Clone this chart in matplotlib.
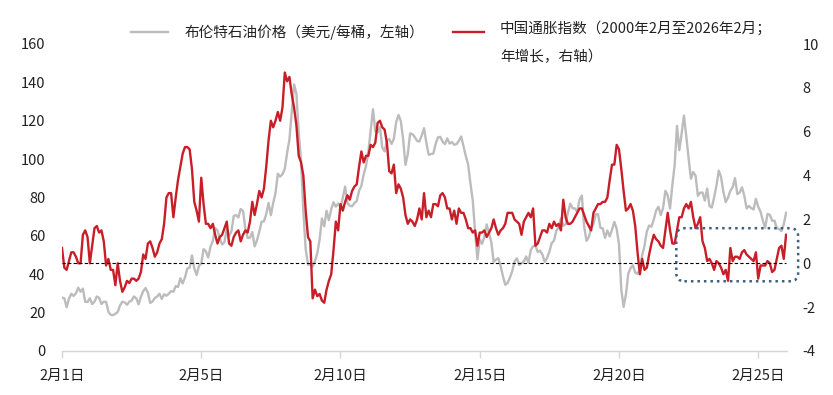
import numpy as np
import pandas as pd
import matplotlib
matplotlib.use('Agg')
import matplotlib.pyplot as plt
from matplotlib.lines import Line2D
from matplotlib.patches import FancyBboxPatch

plt.rcParams['font.family'] = ['Noto Sans CJK SC', 'DejaVu Sans']
plt.rcParams['axes.unicode_minus'] = False

# monthly, Feb 2000 .. Feb 2026
months = pd.date_range('2000-02-01', '2026-02-01', freq='MS')

# China CPI, % y/y (right axis)
cpi_yoy = [
    0.7, -0.2, -0.3, 0.1, 0.5, 0.5, 0.3, 0.0, 0.0, 1.3, 1.5,
    1.2, 0.0, 0.8, 1.6, 1.7, 1.4, 1.5, 1.0, -0.1, 0.2, -0.3, -0.3,
    -1.0, 0.0, -0.8, -1.3, -1.1, -0.8, -0.9, -0.7, -0.7, -0.8, -0.7, -0.4,
    0.4, 0.2, 0.9, 1.0, 0.7, 0.3, 0.5, 0.9, 1.1, 1.8, 3.0, 3.2,
    3.2, 2.1, 3.0, 3.8, 4.4, 5.0, 5.3, 5.3, 5.2, 4.3, 2.8, 2.4,
    1.9, 3.9, 2.7, 1.8, 1.8, 1.6, 1.8, 1.3, 0.9, 1.2, 1.3, 1.6,
    1.9, 0.9, 0.8, 1.2, 1.4, 1.5, 1.0, 1.3, 1.5, 1.4, 1.9, 2.8,
    2.2, 2.7, 3.3, 3.0, 3.4, 4.4, 5.6, 6.5, 6.2, 6.5, 6.9, 6.5,
    7.1, 8.7, 8.3, 8.5, 7.7, 7.1, 6.3, 4.9, 4.6, 4.0, 2.4, 1.2,
    1.0, -1.6, -1.2, -1.5, -1.4, -1.7, -1.8, -1.2, -0.8, -0.5, 0.6, 1.9,
    1.5, 2.7, 2.4, 2.8, 3.1, 2.9, 3.3, 3.5, 3.6, 4.4, 5.1, 4.6,
    4.9, 4.9, 5.4, 5.3, 5.5, 6.4, 6.5, 6.2, 6.1, 5.5, 4.2, 4.1,
    4.5, 3.2, 3.6, 3.4, 3.0, 2.2, 1.8, 2.0, 1.9, 1.7, 2.0, 2.5,
    2.0, 3.2, 2.1, 2.4, 2.1, 2.7, 2.7, 2.6, 3.1, 3.2, 3.0, 2.5,
    2.5, 2.0, 2.4, 1.8, 2.5, 2.3, 2.3, 2.0, 1.6, 1.6, 1.4, 1.5,
    0.8, 1.4, 1.4, 1.5, 1.2, 1.4, 1.6, 2.0, 1.6, 1.3, 1.5, 1.6,
    1.8, 2.3, 2.3, 2.3, 2.0, 1.9, 1.8, 1.3, 1.9, 2.1, 2.3, 2.1,
    2.5, 0.8, 0.9, 1.2, 1.5, 1.5, 1.4, 1.8, 1.6, 1.9, 1.7, 1.8,
    1.5, 2.9, 2.1, 1.8, 1.8, 1.9, 2.1, 2.3, 2.5, 2.5, 2.2, 1.9,
    1.7, 1.5, 2.3, 2.5, 2.7, 2.7, 2.8, 2.8, 3.0, 3.8, 4.5, 4.5,
    5.4, 5.2, 4.3, 3.3, 2.4, 2.5, 2.7, 2.4, 1.7, 0.5, -0.5, 0.2,
    -0.3, -0.2, 0.4, 0.9, 1.3, 1.1, 1.0, 0.8, 0.7, 1.5, 2.3, 1.5,
    0.9, 0.9, 1.5, 2.1, 2.1, 2.5, 2.7, 2.5, 2.8, 2.1, 1.6, 1.8,
    2.1, 1.0, 0.7, 0.1, 0.2, 0.0, -0.3, 0.1, 0.0, -0.2, -0.5, -0.3,
    -0.8, 0.7, 0.1, 0.3, 0.3, 0.2, 0.5, 0.6, 0.4, 0.3, 0.2, 0.1,
    0.5, -0.7, -0.1, -0.1, -0.1, 0.1, 0.0, -0.4, -0.3, 0.2, 0.7, 0.8,
    0.2, 1.3,
]

# Brent, USD/bbl (left axis)
brent = [
    27.8, 27.5, 22.8, 27.3, 29.8, 28.7, 30.1, 33.0, 30.9, 32.5, 25.6,
    25.6, 27.5, 24.5, 25.7, 28.4, 27.7, 24.5, 25.7, 25.6, 20.5, 18.8, 18.7,
    19.4, 20.3, 23.7, 25.7, 25.4, 24.1, 25.7, 26.3, 28.4, 27.5, 24.3, 28.3,
    31.2, 32.8, 30.4, 25.0, 25.8, 27.6, 28.4, 29.8, 27.1, 29.6, 28.8, 29.8,
    31.2, 30.9, 33.8, 33.4, 37.9, 35.2, 38.4, 43.0, 43.4, 49.8, 43.1, 39.6,
    44.3, 45.6, 53.1, 51.9, 48.7, 54.3, 57.5, 64.0, 62.9, 58.5, 55.5, 56.8,
    63.6, 60.0, 62.3, 70.4, 70.8, 69.6, 74.0, 73.0, 63.8, 58.9, 59.1, 62.0,
    54.5, 57.6, 62.1, 67.4, 67.5, 71.3, 77.2, 70.8, 77.1, 82.3, 92.4, 90.9,
    92.2, 94.9, 103.3, 110.2, 124.6, 139.0, 134.0, 113.9, 99.1, 72.8, 53.2, 45.0,
    45.0, 44.0, 46.8, 50.9, 58.1, 69.1, 65.0, 73.1, 68.2, 73.9, 77.5, 75.2,
    76.9, 74.7, 79.9, 85.7, 77.0, 75.7, 75.4, 77.1, 78.2, 83.5, 86.1, 92.0,
    96.5, 103.7, 114.6, 126.0, 114.5, 113.9, 116.7, 106.0, 104.0, 109.6, 110.5, 107.9,
    110.7, 119.3, 123.0, 119.8, 110.3, 97.0, 102.6, 113.4, 113.0, 111.5, 109.5, 109.2,
    112.3, 116.1, 108.5, 102.3, 102.6, 102.9, 107.9, 111.3, 111.6, 109.1, 107.8, 110.8,
    108.1, 108.9, 107.5, 107.8, 109.5, 111.8, 106.8, 101.6, 97.3, 87.3, 78.4, 62.2,
    47.8, 58.1, 55.9, 59.5, 66.0, 61.5, 56.6, 46.5, 47.6, 48.4, 44.3, 39.0,
    34.5, 35.5, 38.2, 41.6, 46.7, 48.3, 44.9, 45.8, 46.6, 49.3, 45.9, 52.6,
    54.6, 54.9, 51.6, 52.3, 50.3, 46.4, 48.5, 51.7, 56.2, 57.5, 62.7, 64.4,
    69.1, 65.3, 66.0, 72.1, 76.8, 74.4, 74.3, 72.5, 78.9, 81.0, 64.8, 57.4,
    59.4, 64.0, 66.1, 71.2, 71.3, 64.2, 63.9, 59.0, 62.8, 59.7, 63.2, 67.3,
    63.7, 55.7, 32.0, 23.0, 29.4, 40.3, 43.2, 44.7, 40.9, 40.2, 42.7, 49.9,
    54.8, 62.3, 65.4, 64.8, 68.5, 73.2, 75.2, 70.8, 74.5, 83.5, 81.1, 74.2,
    86.5, 97.0, 117.3, 104.6, 113.3, 122.7, 111.9, 100.5, 89.8, 93.3, 91.4, 80.9,
    82.5, 82.6, 78.4, 84.6, 75.5, 74.8, 80.1, 86.2, 94.0, 90.6, 82.9, 77.6,
    80.1, 83.5, 85.4, 90.1, 81.8, 82.6, 85.3, 80.9, 74.3, 75.6, 74.4, 73.8,
    79.3, 75.2, 72.6, 68.0, 64.2, 71.4, 71.0, 67.9, 67.9, 64.0, 63.6, 62.5,
    66.0, 72.0,
]

tick_pos = [0, 60, 120, 180, 240, 300]
tick_labels = ['2月1日', '2月5日', '2月10日', '2月15日', '2月20日', '2月25日']

label_brent = '布伦特石油价格（美元/每桶，左轴）'
label_cpi_1 = '中国通胀指数（2000年2月至2026年2月；'
label_cpi_2 = '年增长，右轴）'

# highlighted recent period (month index / right-axis range)
box_start, box_end = 264.7, 317.2
box_low, box_high = -0.82, 1.6

RED = '#c81e28'
GRAY = '#bcbcbc'
TXT = '#222222'
FS = 10.5

W, H = 833, 395
x = np.arange(len(months))

fig = plt.figure(figsize=(W / 100, H / 100), dpi=100)
ax = fig.add_axes([62 / W, 1 - 351 / H, 725 / W, 307 / H])
ax2 = ax.twinx()

ax.plot(x, brent, color=GRAY, lw=1.7, solid_joinstyle='round')
ax2.plot(x, cpi_yoy, color=RED, lw=1.7, solid_joinstyle='round')
ax2.plot([0, len(x) - 1], [0, 0], color='black', lw=0.8, ls=(0, (3, 2)))

ax.set_xlim(0, 312.4)
ax.set_ylim(0, 160)
ax2.set_ylim(-4, 10)
ax.set_yticks(range(0, 161, 20))
ax2.set_yticks(range(-4, 11, 2))
ax.set_xticks(tick_pos)
ax.set_xticklabels(tick_labels)

for a in (ax, ax2):
    for s in a.spines.values():
        s.set_visible(False)
ax.spines['bottom'].set_visible(True)
ax.spines['bottom'].set_color('#d6d6d6')
ax.spines['bottom'].set_linewidth(1.0)

ax.tick_params(axis='x', length=5, width=1, color='#d6d6d6', pad=8,
               labelsize=FS, labelcolor=TXT)
ax.tick_params(axis='y', length=0, pad=12, labelsize=FS, labelcolor=TXT)
ax2.tick_params(axis='y', length=0, pad=11, labelsize=FS, labelcolor=TXT)

# dotted highlight box
px_x = 725 / 312.4
px_y = 307 / 14
box = FancyBboxPatch((box_start, box_low), box_end - box_start, box_high - box_low,
                     boxstyle='round,pad=0,rounding_size=3.5',
                     mutation_aspect=px_x / px_y,
                     fill=False, edgecolor='#3f5f7f', lw=1.8, ls=(0, (1, 1.6)),
                     clip_on=False, transform=ax2.transData, zorder=5)
ax2.add_patch(box)

# legend drawn by hand
fig.add_artist(Line2D([131 / W, 168 / W], [1 - 32 / H] * 2, color=GRAY, lw=1.7,
                      transform=fig.transFigure))
fig.text(185 / W, 1 - 32 / H, label_brent, fontsize=FS, color=TXT, va='center')
fig.add_artist(Line2D([453 / W, 484 / W], [1 - 32 / H] * 2, color=RED, lw=1.7,
                      transform=fig.transFigure))
fig.text(500 / W, 1 - 28.5 / H, label_cpi_1, fontsize=FS, color=TXT, va='center')
fig.text(500 / W, 1 - 56.5 / H, label_cpi_2, fontsize=FS, color=TXT, va='center')

fig.savefig('out.png', dpi=100)
